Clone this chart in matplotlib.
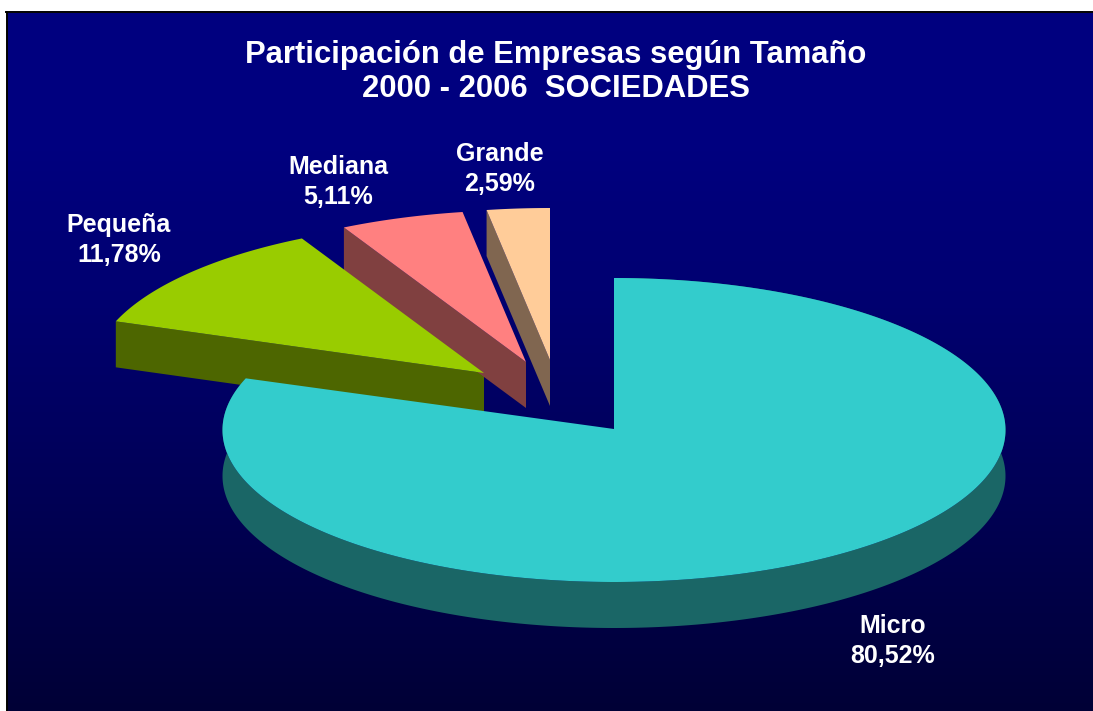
import numpy as np
import matplotlib
matplotlib.use('Agg')
import matplotlib.pyplot as plt
from matplotlib.patches import Polygon

categories = ['Micro', 'Pequeña', 'Mediana', 'Grande']
shares = [80.52, 11.78, 5.11, 2.59]
share_labels = ['80,52%', '11,78%', '5,11%', '2,59%']
title_lines = ['Participación de Empresas según Tamaño', '2000 - 2006  SOCIEDADES']

top_colors = ['#33CCCC', '#99CC00', '#FF8080', '#FFCC99']
side_colors = ['#1A6666', '#4D6600', '#804040', '#806650']

# pie geometry, in pixels of the figure
cx, cy = 614, 430
rx, ry = 391.5, 152
depth = 46
tips = [(614, 429), (484, 373), (526, 362), (550, 360)]
label_pos = [(893, 641), (119, 240), (338, 182), (500, 169)]


def rim_points(start, stop, tip):
    # start/stop are degrees clockwise from 12 o'clock
    a = np.radians(np.arange(start, stop, 0.5).tolist() + [stop])
    return tip[0] + rx * np.sin(a), tip[1] - ry * np.cos(a)


fig = plt.figure(figsize=(10.93, 7.11), dpi=100, facecolor='white')
ax = fig.add_axes([0, 0, 1, 1])
ax.set_xlim(0, 1093)
ax.set_ylim(711, 0)
ax.axis('off')

# background gradient, black edge only on the left and top
rows = np.linspace(13, 711, 256)
grad = np.zeros((256, 1, 3))
grad[:, 0, 2] = np.interp(rows, [13, 150, 300, 450, 600, 711], [128, 127, 112, 92, 70, 54]) / 255
ax.imshow(grad, extent=(7, 1093, 711, 13), aspect='auto', zorder=0)
ax.set_xlim(0, 1093)
ax.set_ylim(711, 0)
ax.plot([6.5, 6.5], [711, 12], color='black', lw=1.4, zorder=1)
ax.plot([6, 1093], [12, 12], color='black', lw=1.4, zorder=1)

angles = np.cumsum([0] + shares) * 3.6

# small slices first, the big one goes on top of them
for i in [1, 2, 3]:
    tip = tips[i]
    x, y = rim_points(angles[i], angles[i + 1], tip)
    side = [(x[0], y[0]), tip, (tip[0], tip[1] + depth), (x[0], y[0] + depth)]
    ax.add_patch(Polygon(side, closed=True, fc=side_colors[i], ec='none', zorder=2))
    top = np.column_stack([np.r_[tip[0], x], np.r_[tip[1], y]])
    ax.add_patch(Polygon(top, closed=True, fc=top_colors[i], ec='none', zorder=3))

# micro: outer wall then top
x, y = rim_points(angles[0], angles[1], (cx, cy))
wall = np.column_stack([np.r_[x, x[::-1]], np.r_[y, y[::-1] + depth]])
ax.add_patch(Polygon(wall, closed=True, fc=side_colors[0], ec='none', zorder=4))
top = np.column_stack([np.r_[tips[0][0], x], np.r_[tips[0][1], y]])
ax.add_patch(Polygon(top, closed=True, fc=top_colors[0], ec='none', zorder=5))

font = ['Liberation Sans', 'DejaVu Sans']
for name, value, pos in zip(categories, share_labels, label_pos):
    ax.text(pos[0], pos[1], name + '\n' + value, color='white', fontsize=18, fontweight='bold',
            family=font, ha='center', va='center', linespacing=1.32, zorder=6)

ax.text(556, 72, '\n'.join(title_lines), color='white', fontsize=22.3, fontweight='bold',
        family=font, ha='center', va='center', linespacing=1.18, zorder=6)

fig.savefig('out.png', dpi=100, facecolor='white')
